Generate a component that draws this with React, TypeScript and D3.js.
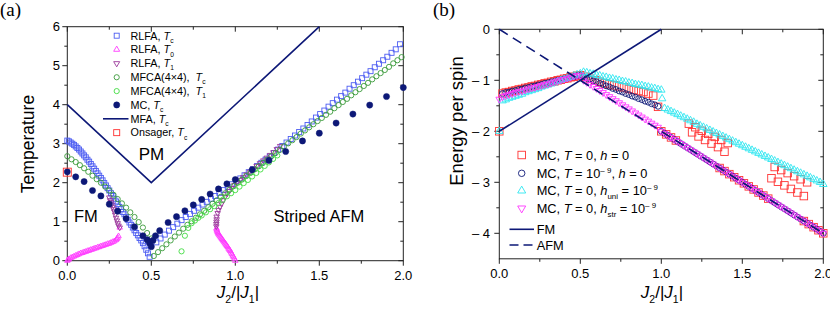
import React from "react";
import * as d3 from "d3";

// ---------- panel (a): transition temperatures vs J2/|J1| ----------
// RLFA Tc, ferro side (x from 0, step 0.01)
const rlfaTcFmStep = 0.01;
const rlfaTcFm = [3.08, 3.06, 3.03, 3.0, 2.97, 2.93, 2.89, 2.85, 2.8, 2.75, 2.7, 2.65, 2.59, 2.54, 2.48, 2.42, 2.36, 2.3, 2.24, 2.18,
  2.12, 2.06, 1.99, 1.93, 1.86, 1.8, 1.73, 1.66, 1.59, 1.52, 1.45, 1.38, 1.32, 1.25, 1.19, 1.12, 1.05, 0.98, 0.92, 0.85,
  0.78, 0.71, 0.65, 0.58, 0.52, 0.45, 0.37, 0.28, 0.19, 0.1];
// RLFA Tc, striped side (x from 0.53, step 0.025)
const rlfaTcAfmStart = 0.53;
const rlfaTcAfm = [0.47, 0.57, 0.67, 0.77, 0.86, 0.95, 1.04, 1.12, 1.2, 1.28, 1.36, 1.44, 1.51, 1.59, 1.66, 1.74, 1.81, 1.89, 1.96, 2.04,
  2.11, 2.19, 2.27, 2.35, 2.43, 2.51, 2.59, 2.67, 2.76, 2.85, 2.94, 3.03, 3.12, 3.21, 3.3, 3.39, 3.48, 3.57, 3.67, 3.76,
  3.85, 3.95, 4.04, 4.13, 4.22, 4.31, 4.41, 4.5, 4.59, 4.68, 4.77, 4.86, 4.96, 5.05, 5.14, 5.23, 5.33, 5.42, 5.55];
// RLFA T0
const rlfaT0X = [0, 0.005, 0.01, 0.02, 0.03, 0.04, 0.05, 0.06, 0.07, 0.08, 0.09, 0.1, 0.11, 0.12, 0.13, 0.14, 0.15, 0.16, 0.17, 0.18,
  0.19, 0.2, 0.21, 0.22, 0.23, 0.24, 0.25, 0.26, 0.27, 0.28, 0.29, 0.295, 0.3, 0.305, 0.312,
  1.0, 0.995, 0.99, 0.985, 0.98, 0.975, 0.97, 0.965, 0.96, 0.955, 0.95, 0.945, 0.94, 0.935, 0.93, 0.925, 0.92, 0.915, 0.91,
  0.905, 0.9, 0.897, 0.894, 0.891, 0.889, 0.888];
const rlfaT0 = [0, 0.02, 0.04, 0.07, 0.09, 0.11, 0.13, 0.15, 0.17, 0.19, 0.2, 0.22, 0.23, 0.25, 0.26, 0.28, 0.29, 0.31, 0.32, 0.34,
  0.35, 0.37, 0.38, 0.4, 0.41, 0.43, 0.44, 0.46, 0.48, 0.5, 0.53, 0.56, 0.59, 0.63, 0.85,
  0.0, 0.05, 0.09, 0.13, 0.17, 0.21, 0.25, 0.28, 0.31, 0.35, 0.38, 0.41, 0.44, 0.47, 0.5, 0.53, 0.56, 0.59, 0.62,
  0.65, 0.68, 0.71, 0.74, 0.77, 0.8, 0.83];
// RLFA T1
const rlfaT1X = [0.25, 0.255, 0.26, 0.265, 0.27, 0.275, 0.28, 0.285, 0.29, 0.295, 0.3, 0.305, 0.312,
  0.887, 0.887, 0.888, 0.889, 0.889, 0.895, 0.9, 0.909, 0.918, 0.928, 0.939, 0.952, 0.965, 0.978, 0.995, 1.011, 1.028,
  1.047, 1.067, 1.087, 1.107, 1.127, 1.147, 1.167, 1.187, 1.207, 1.227, 1.247, 1.267];
const rlfaT1 = [1.62, 1.55, 1.5, 1.44, 1.38, 1.32, 1.26, 1.18, 1.1, 1.03, 0.96, 0.9, 0.85,
  0.88, 0.94, 1.0, 1.06, 1.13, 1.22, 1.3, 1.38, 1.46, 1.55, 1.64, 1.72, 1.79, 1.86, 1.94, 2.0, 2.07,
  2.14, 2.21, 2.28, 2.36, 2.43, 2.5, 2.57, 2.64, 2.71, 2.78, 2.86, 2.94];
// MFCA(4x4) Tc (step 0.025)
const mfcaStep = 0.025;
const mfcaTcFm = [2.68, 2.6, 2.53, 2.45, 2.37, 2.28, 2.18, 2.09, 2.0, 1.9, 1.8, 1.69, 1.58, 1.47, 1.36, 1.24, 1.12, 0.99, 0.85, 0.71, 0.57];
const mfcaTcAfmStart = 0.515;
const mfcaTcAfm = [0.12, 0.22, 0.32, 0.42, 0.52, 0.62, 0.72, 0.82, 0.92, 1.01, 1.1, 1.19, 1.28, 1.37, 1.46, 1.55, 1.64, 1.73, 1.82, 1.91,
  2.0, 2.08, 2.17, 2.25, 2.34, 2.42, 2.51, 2.59, 2.68, 2.76, 2.84, 2.93, 3.01, 3.09, 3.17, 3.26, 3.34, 3.42, 3.5, 3.58,
  3.66, 3.74, 3.82, 3.91, 3.99, 4.07, 4.15, 4.24, 4.32, 4.4, 4.48, 4.56, 4.65, 4.73, 4.81, 4.89, 4.97, 5.06, 5.14, 5.22];
// MFCA(4x4) T1
const mfcaT1X = [0.68, 0.7, 0.72, 0.74, 0.76, 0.78, 0.8, 0.825, 0.85, 0.875, 0.9, 0.925, 0.95, 0.975, 1.0, 1.025, 1.05, 1.075,
  1.1, 1.125, 1.15, 1.175, 1.2, 1.225, 1.25];
const mfcaT1 = [0.24, 0.64, 0.84, 0.96, 1.03, 1.1, 1.16, 1.24, 1.32, 1.4, 1.48, 1.56, 1.65, 1.73, 1.81, 1.9, 1.99, 2.07,
  2.16, 2.25, 2.34, 2.43, 2.52, 2.61, 2.7];
// Monte Carlo Tc
const mcX = [0, 0.05, 0.1, 0.15, 0.2, 0.25, 0.3, 0.35, 0.4, 0.45, 0.475, 0.49, 0.5, 0.51, 0.525, 0.55, 0.6, 0.65, 0.7, 0.75,
  0.8, 0.85, 0.9, 0.95, 1.0, 1.1, 1.2, 1.3, 1.4, 1.5, 1.6, 1.7, 1.8, 1.9, 2.0];
const mcT = [2.28, 2.15, 2.03, 1.8, 1.66, 1.45, 1.27, 1.08, 0.87, 0.64, 0.54, 0.45, 0.36, 0.52, 0.64, 0.77, 0.98, 1.13, 1.28, 1.43,
  1.57, 1.71, 1.84, 1.97, 2.08, 2.33, 2.57, 2.8, 3.07, 3.27, 3.53, 3.76, 3.99, 4.21, 4.44];
// mean-field line and Onsager point
const mfaX = [0, 0.5, 1.5];
const mfaT = [4, 2, 6];
const onsagerX = [0];
const onsagerT = [2.27];

// ---------- panel (b): energy per spin ----------
const gridStep = 0.02;
const ferroLeftE = [-1.26, -1.24, -1.23, -1.21, -1.2, -1.18, -1.17, -1.15, -1.14, -1.12, -1.11, -1.09, -1.08, -1.06, -1.05,
  -1.03, -1.02, -1.0, -0.99, -0.97, -0.96, -0.94, -0.93, -0.91, -0.9]; // x 0.02..0.5
const stripedE = [-2.0, -2.04, -2.08, -2.12, -2.16, -2.2, -2.24, -2.28, -2.32, -2.36, -2.4, -2.44, -2.48, -2.52, -2.56, -2.6,
  -2.64, -2.68, -2.72, -2.76, -2.8, -2.84, -2.88, -2.92, -2.96, -3.0, -3.04, -3.08, -3.12, -3.16, -3.2, -3.24, -3.28, -3.32,
  -3.36, -3.4, -3.44, -3.48, -3.52, -3.56, -3.6, -3.64, -3.68, -3.72, -3.76, -3.8, -3.84, -3.88, -3.92, -3.96, -4.0]; // x 1..2
// T = 0, h = 0
const redMidE = [-0.93, -0.97, -1.0, -1.03, -1.06, -1.08, -1.1, -1.12, -1.14, -1.17, -1.19, -1.21, -1.23, -1.26, -1.3, -1.52]; // x 0.53.. step 0.03
const redX = [0, 1.0, 1.03, 1.06, 1.09, 1.36, 1.39, 1.42, 1.45, 1.48, 1.51, 1.54, 1.57, 1.6, 1.63, 1.66, 1.88, 1.91, 1.94, 1.97, 2.0,
  1.17, 1.21, 1.25, 1.29, 1.33, 1.37, 1.41, 1.19, 1.23, 1.27, 1.31, 1.35, 1.39,
  1.7, 1.74, 1.78, 1.82, 1.86, 1.9, 1.68, 1.72, 1.76, 1.8, 1.84, 1.88];
const redE = [-2.0, -2.0, -2.06, -2.12, -2.18, -2.72, -2.78, -2.84, -2.9, -2.96, -3.02, -3.08, -3.14, -3.2, -3.26, -3.32, -3.76, -3.82, -3.88, -3.94, -4.0,
  -1.85, -1.92, -1.99, -2.05, -2.11, -2.17, -2.23, -2.02, -2.1, -2.17, -2.24, -2.31, -2.4,
  -2.7, -2.76, -2.82, -2.88, -2.94, -3.0, -2.92, -2.99, -3.06, -3.13, -3.2, -3.27];
// T = 1e-9, h = 0
const navyMidE = [-0.93, -0.96, -0.98, -1.01, -1.03, -1.06, -1.08, -1.11, -1.13, -1.16, -1.18, -1.21, -1.23, -1.26, -1.28, -1.31,
  -1.33, -1.36, -1.38, -1.41, -1.43, -1.46, -1.48, -1.51]; // x 0.52..0.98
// h_uni
const cyanLeftE = [-1.4, -1.38, -1.35, -1.33, -1.31, -1.29, -1.27, -1.24, -1.22, -1.2, -1.18, -1.16, -1.13, -1.11, -1.09, -1.07,
  -1.05, -1.02, -1.0, -0.98, -0.96, -0.94, -0.91, -0.89, -0.87]; // x 0.02..0.5
const cyanMidE = [-0.84, -0.85, -0.87, -0.88, -0.9, -0.91, -0.93, -0.94, -0.96, -0.97, -0.99, -1.0, -1.02, -1.03, -1.05, -1.06,
  -1.08, -1.09, -1.1, -1.12, -1.13, -1.15, -1.16, -1.18, -1.19]; // x 0.52..1.0
const cyanRightE = [-1.55, -1.58, -1.61, -1.64, -1.67, -1.7, -1.73, -1.76, -1.79, -1.82, -1.86, -1.89, -1.92, -1.95, -1.98, -2.01,
  -2.04, -2.07, -2.1, -2.13, -2.16, -2.19, -2.22, -2.25, -2.28, -2.31, -2.34, -2.37, -2.4, -2.43, -2.46, -2.49, -2.52, -2.55,
  -2.58, -2.61, -2.64, -2.67, -2.7, -2.73, -2.76, -2.79, -2.82, -2.85, -2.88, -2.91, -2.94, -2.97, -3.0, -3.04]; // x 1.02..2
const cyanX = [0, 1.005];
const cyanE = [-2.0, -1.36];
// h_str
const magLeftE = [-1.37, -1.32, -1.3, -1.28, -1.26, -1.24, -1.22, -1.21, -1.19, -1.17, -1.15, -1.14, -1.12, -1.1, -1.08, -1.07,
  -1.05, -1.03, -1.01, -0.99, -0.98, -0.96, -0.94, -0.92, -0.91, -0.9]; // x 0..0.5
const magMidE = [-1.0, -1.04, -1.08, -1.12, -1.16, -1.2, -1.24, -1.28, -1.32, -1.36, -1.4, -1.44, -1.48, -1.52, -1.56, -1.6,
  -1.64, -1.68, -1.72, -1.76, -1.8, -1.84, -1.88, -1.92]; // x 0.52..0.98
// ground-state lines
const fmX = [0, 1];
const fmE = [-2, 0];
const afmX = [0, 2];
const afmE = [0, -4];

const FONT = "Arial, 'Liberation Sans', Helvetica, sans-serif";
const NAVY = "#0d1877";

const onGrid = (start: number, step: number, vals: number[]) =>
  vals.map((v, i) => [start + i * step, v] as [number, number]);
const zip = (xs: number[], ys: number[]) => xs.map((x, i) => [x, ys[i]] as [number, number]);

type Shape = "square" | "circle" | "up" | "down" | "dot";
type Seg = { t: string; it?: boolean; sub?: boolean; sup?: boolean };

function Mark({ shape, x, y, s, c }: { shape: Shape; x: number; y: number; s: number; c: string }) {
  if (shape === "square")
    return <rect x={x - s / 2} y={y - s / 2} width={s} height={s} fill="none" stroke={c} strokeWidth={0.9} />;
  if (shape === "circle") return <circle cx={x} cy={y} r={s / 2} fill="none" stroke={c} strokeWidth={0.9} />;
  if (shape === "dot") return <circle cx={x} cy={y} r={s / 2} fill={c} stroke={c} strokeWidth={0.5} />;
  const area = (s * s * Math.sqrt(3)) / 4;
  const d = d3.symbol().type(d3.symbolTriangle).size(area)() || "";
  return (
    <path d={d} transform={`translate(${x},${y})${shape === "down" ? " rotate(180)" : ""}`} fill="none" stroke={c} strokeWidth={0.9} />
  );
}

function Rich({ segs, size, ...rest }: any) {
  let shift = 0;
  const kids = segs.map((s: Seg, i: number) => {
    const target = s.sub ? size * 0.3 : s.sup ? -size * 0.38 : 0;
    const dy = target - shift;
    shift = target;
    return (
      <tspan key={i} dy={dy ? dy : undefined} fontStyle={s.it ? "italic" : undefined}
        fontSize={s.sub || s.sup ? size * 0.62 : undefined}>{s.t}</tspan>
    );
  });
  return <text fontSize={size} fontFamily={FONT} style={{ whiteSpace: "pre" }} {...rest}>{kids}</text>;
}

function Frame({ x, y, xMajor, xMinor, yMajor, yMinor, xFmt, yFmt, yLabelX }: any) {
  const [x0, x1] = x.range();
  const [y0, y1] = y.range();
  const c = "#222";
  return (
    <g>
      <rect x={x0} y={y1} width={x1 - x0} height={y0 - y1} fill="none" stroke={c} strokeWidth={1} />
      {xMajor.map((v: number) => (
        <g key={"xm" + v}>
          <line x1={x(v)} x2={x(v)} y1={y0} y2={y0 + 5} stroke={c} />
          <line x1={x(v)} x2={x(v)} y1={y1} y2={y1 + 5} stroke={c} />
          <text x={x(v)} y={y0 + 19} textAnchor="middle" fontSize={13} fontFamily={FONT}>{xFmt(v)}</text>
        </g>
      ))}
      {xMinor.map((v: number) => (
        <g key={"xn" + v}>
          <line x1={x(v)} x2={x(v)} y1={y0} y2={y0 + 3} stroke={c} />
          <line x1={x(v)} x2={x(v)} y1={y1} y2={y1 + 3} stroke={c} />
        </g>
      ))}
      {yMajor.map((v: number) => (
        <g key={"ym" + v}>
          <line x1={x0} x2={x0 - 5} y1={y(v)} y2={y(v)} stroke={c} />
          <line x1={x1} x2={x1 - 5} y1={y(v)} y2={y(v)} stroke={c} />
          <text x={yLabelX} y={y(v)} dy="0.35em" textAnchor="end" fontSize={13} fontFamily={FONT}>{yFmt(v)}</text>
        </g>
      ))}
      {yMinor.map((v: number) => (
        <g key={"yn" + v}>
          <line x1={x0} x2={x0 - 3} y1={y(v)} y2={y(v)} stroke={c} />
          <line x1={x1} x2={x1 - 3} y1={y(v)} y2={y(v)} stroke={c} />
        </g>
      ))}
    </g>
  );
}

function Points({ pts, x, y, shape, s, c }: any) {
  return (
    <g>
      {pts.map((p: [number, number], i: number) => (
        <Mark key={i} shape={shape} x={x(p[0])} y={y(p[1])} s={s} c={c} />
      ))}
    </g>
  );
}

const xTitle: Seg[] = [{ t: "J", it: true }, { t: "2", sub: true }, { t: "/|" }, { t: "J", it: true }, { t: "1", sub: true }, { t: "|" }];

function PanelA() {
  const x = d3.scaleLinear().domain([0, 2]).range([67.3, 403.3]);
  const y = d3.scaleLinear().domain([0, 6]).range([260.7, 26.7]);
  const line = d3.line<[number, number]>().x((d) => x(d[0])).y((d) => y(d[1]));
  const blue = "#4e5ef2", mag = "#ff3cff", purple = "#9b3a9b", dkg = "#399a39", ltg = "#3fdc3f", red = "#ff3030";
  const series = [
    { pts: [...onGrid(0, rlfaTcFmStep, rlfaTcFm), ...onGrid(rlfaTcAfmStart, mfcaStep, rlfaTcAfm)], shape: "square", s: 5, c: blue },
    { pts: zip(rlfaT0X, rlfaT0), shape: "up", s: 5.5, c: mag },
    { pts: zip(rlfaT1X, rlfaT1), shape: "down", s: 5.5, c: purple },
    { pts: [...onGrid(0, mfcaStep, mfcaTcFm), ...onGrid(mfcaTcAfmStart, mfcaStep, mfcaTcAfm)], shape: "circle", s: 5.2, c: dkg },
    { pts: zip(mfcaT1X, mfcaT1), shape: "circle", s: 5.2, c: ltg },
    { pts: zip(mcX, mcT), shape: "dot", s: 6.2, c: NAVY },
  ];
  const legend: { segs: Seg[]; shape?: string; s: number; c: string }[] = [
    { segs: [{ t: "RLFA, " }, { t: "T", it: true }, { t: "c", sub: true }], shape: "square", s: 5, c: blue },
    { segs: [{ t: "RLFA, " }, { t: "T", it: true }, { t: "0", sub: true }], shape: "up", s: 6, c: mag },
    { segs: [{ t: "RLFA, " }, { t: "T", it: true }, { t: "1", sub: true }], shape: "down", s: 6, c: purple },
    { segs: [{ t: "MFCA(4×4),  " }, { t: "T", it: true }, { t: "c", sub: true }], shape: "circle", s: 5.2, c: dkg },
    { segs: [{ t: "MFCA(4×4),  " }, { t: "T", it: true }, { t: "1", sub: true }], shape: "circle", s: 5.2, c: ltg },
    { segs: [{ t: "MC, " }, { t: "T", it: true }, { t: "c", sub: true }], shape: "dot", s: 6.2, c: NAVY },
    { segs: [{ t: "MFA, " }, { t: "T", it: true }, { t: "c", sub: true }], s: 0, c: NAVY },
    { segs: [{ t: "Onsager, " }, { t: "T", it: true }, { t: "c", sub: true }], shape: "square", s: 6, c: red },
  ];
  return (
    <g>
      <text x={0} y={16} fontSize={19} fontFamily="'Liberation Serif', 'Times New Roman', serif">(a)</text>
      <Frame x={x} y={y} xMajor={[0, 0.5, 1, 1.5, 2]} xMinor={[0.25, 0.75, 1.25, 1.75]}
        yMajor={d3.range(0, 7)} yMinor={d3.range(0.5, 6, 1)} xFmt={(v: number) => v.toFixed(1)} yFmt={(v: number) => String(v)} yLabelX={60} />
      {series.map((sr, i) => (
        <Points key={i} pts={sr.pts} x={x} y={y} shape={sr.shape} s={sr.s} c={sr.c} />
      ))}
      <path d={line(zip(mfaX, mfaT)) || ""} fill="none" stroke={NAVY} strokeWidth={1.6} />
      <Points pts={zip(onsagerX, onsagerT)} x={x} y={y} shape="square" s={8} c={red} />
      {legend.map((l, i) => {
        const ly = 35.7 + i * 13.85;
        return (
          <g key={i}>
            {l.shape ? <Mark shape={l.shape as Shape} x={116.7} y={ly} s={l.s} c={l.c} /> :
              <line x1={103} x2={128.5} y1={ly} y2={ly} stroke={l.c} strokeWidth={1.6} />}
            <Rich segs={l.segs} size={10.8} x={130.5} y={ly + 3.8} />
          </g>
        );
      })}
      <text x={151.5} y={159.5} textAnchor="middle" fontSize={17} fontFamily={FONT}>PM</text>
      <text x={74} y={222} fontSize={16.5} fontFamily={FONT}>FM</text>
      <text x={273.5} y={221.5} fontSize={16.5} fontFamily={FONT}>Striped AFM</text>
      <Rich segs={[{ t: "Temperature" }]} size={17.5} textAnchor="middle" transform="translate(34,144) rotate(-90)" />
      <Rich segs={xTitle} size={17} textAnchor="middle" x={238} y={297.5} />
    </g>
  );
}

function PanelB() {
  const x = d3.scaleLinear().domain([0, 2]).range([499.3, 823.3]);
  const y = d3.scaleLinear().domain([-4.5, 0]).range([258.8, 29.3]);
  const line = d3.line<[number, number]>().x((d) => x(d[0])).y((d) => y(d[1]));
  const red = "#ff3232", cyan = "#2ee6f0", mag = "#ff36ff";
  const series = [
    {
      pts: [...onGrid(0.02, gridStep, ferroLeftE), ...onGrid(0.53, 0.03, redMidE), ...zip(redX, redE)],
      shape: "square", s: 7.5, c: red,
    },
    {
      pts: [...onGrid(0.02, gridStep, ferroLeftE), ...onGrid(0.52, gridStep, navyMidE), ...onGrid(1, gridStep, stripedE)],
      shape: "circle", s: 5.8, c: NAVY,
    },
    {
      pts: [...onGrid(0.02, gridStep, cyanLeftE), ...onGrid(0.52, gridStep, cyanMidE), ...zip(cyanX, cyanE), ...onGrid(1.02, gridStep, cyanRightE)],
      shape: "up", s: 7.5, c: cyan,
    },
    {
      pts: [...onGrid(0, gridStep, magLeftE), ...onGrid(0.52, gridStep, magMidE), ...onGrid(1, gridStep, stripedE)],
      shape: "down", s: 6.8, c: mag,
    },
  ];
  const legend: { segs: Seg[]; shape?: string; s: number; c: string; dash?: boolean; y: number }[] = [
    { segs: [{ t: "MC, " }, { t: "T", it: true }, { t: " = 0, " }, { t: "h", it: true }, { t: " = 0" }], shape: "square", s: 7.5, c: red, y: 155 },
    { segs: [{ t: "MC, " }, { t: "T", it: true }, { t: " = 10" }, { t: "\u2013 9", sup: true }, { t: ", " }, { t: "h", it: true }, { t: " = 0" }], shape: "circle", s: 6.5, c: NAVY, y: 173.3 },
    { segs: [{ t: "MC, " }, { t: "T", it: true }, { t: " = 0, " }, { t: "h", it: true }, { t: "uni", sub: true }, { t: " = 10" }, { t: "\u2013 9", sup: true }], shape: "up", s: 8, c: cyan, y: 190.7 },
    { segs: [{ t: "MC, " }, { t: "T", it: true }, { t: " = 0, " }, { t: "h", it: true }, { t: "str", sub: true }, { t: " = 10" }, { t: "\u2013 9", sup: true }], shape: "down", s: 8, c: mag, y: 208.3 },
    { segs: [{ t: "FM" }], s: 0, c: NAVY, y: 229.3 },
    { segs: [{ t: "AFM" }], s: 0, c: NAVY, dash: true, y: 245 },
  ];
  return (
    <g>
      <text x={433} y={16} fontSize={19} fontFamily="'Liberation Serif', 'Times New Roman', serif">(b)</text>
      <Frame x={x} y={y} xMajor={[0, 0.5, 1, 1.5, 2]} xMinor={[0.25, 0.75, 1.25, 1.75]}
        yMajor={[0, -1, -2, -3, -4]} yMinor={[-0.5, -1.5, -2.5, -3.5]} xFmt={(v: number) => v.toFixed(1)}
        yFmt={(v: number) => (v === 0 ? "0" : "\u2013 " + Math.abs(v))} yLabelX={490} />
      {series.map((sr, i) => (
        <Points key={i} pts={sr.pts} x={x} y={y} shape={sr.shape} s={sr.s} c={sr.c} />
      ))}
      <path d={line(zip(fmX, fmE)) || ""} fill="none" stroke={NAVY} strokeWidth={1.6} />
      <path d={line(zip(afmX, afmE)) || ""} fill="none" stroke={NAVY} strokeWidth={1.6} strokeDasharray="10,6" />
      {legend.map((l, i) => (
        <g key={i}>
          {l.shape ? <Mark shape={l.shape as Shape} x={521.7} y={l.y} s={l.s} c={l.c} /> :
            <line x1={509.5} x2={534} y1={l.y} y2={l.y} stroke={l.c} strokeWidth={1.6} strokeDasharray={l.dash ? "9,5" : undefined} />}
          <Rich segs={l.segs} size={12.8} x={536.7} y={l.y + 4.5} />
        </g>
      ))}
      <Rich segs={[{ t: "Energy per spin" }]} size={18.5} textAnchor="middle" transform="translate(463,121) rotate(-90)" />
      <Rich segs={xTitle} size={17} textAnchor="middle" x={662} y={297.5} />
    </g>
  );
}

export default function App() {
  return (
    <svg width={830} height={311} style={{ position: "absolute", left: 0, top: 0, background: "#fff" }}>
      <PanelA />
      <PanelB />
    </svg>
  );
}
